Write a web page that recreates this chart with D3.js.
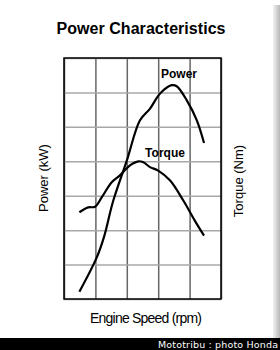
<!DOCTYPE html>
<html>
<head>
<meta charset="utf-8">
<script src="https://cdn.jsdelivr.net/npm/d3@7"></script>
<style>
  body { margin: 0; background: #fff; }
  text { font-family: "Liberation Sans", Arial, sans-serif; }
</style>
</head>
<body>
<div id="chartDiv"></div>
<script>
// engine speed in grid units (5 columns), output in grid units (7 rows)
const powerSpeed = [0.49, 1.04, 1.27, 1.57, 2.0, 2.42, 2.74, 3.06, 3.43, 3.59, 3.91, 4.23, 4.46];
const powerValue = [0.21, 1.2, 1.79, 2.86, 4.02, 5.19, 5.53, 5.97, 6.21, 6.18, 5.77, 5.19, 4.53];
const torqueSpeed = [0.49, 0.77, 0.99, 1.2, 1.52, 1.78, 2.1, 2.37, 2.53, 2.74, 3.0, 3.38, 3.8, 4.17, 4.46];
const torqueValue = [2.52, 2.66, 2.68, 2.95, 3.39, 3.59, 3.88, 4.0, 3.97, 3.83, 3.73, 3.44, 2.86, 2.27, 1.84];
const xCols = 5;
const yRows = 7;

const width = 280, height = 350;
const margin = {top: 58, right: 59, bottom: 51, left: 64};

let svg = d3.select("#chartDiv").append("svg")
    .attr("width", width)
    .attr("height", height);

// grey shadow on the right edge
let grad = svg.append("defs").append("linearGradient")
    .attr("id", "shade").attr("x1", 0).attr("x2", 1);
grad.append("stop").attr("offset", 0).attr("stop-color", "#f2f2f2");
grad.append("stop").attr("offset", 1).attr("stop-color", "#b8b8b8");
svg.append("rect")
    .attr("x", 273).attr("y", 5)
    .attr("width", 7).attr("height", 333)
    .attr("fill", "url(#shade)");

let x = d3.scaleLinear()
    .domain([0, xCols])
    .range([margin.left, width - margin.right]);

let y = d3.scaleLinear()
    .domain([0, yRows])
    .range([height - margin.bottom, margin.top]);

// grid
svg.append("g")
    .attr("transform", `translate(0, ${height - margin.bottom})`)
    .call(d3.axisBottom(x).ticks(xCols).tickSize(-(height - margin.top - margin.bottom)).tickFormat(""))
    .call(g => g.select(".domain").remove())
    .selectAll(".tick line")
    .attr("stroke", "#666")
    .attr("stroke-width", 1.5);

svg.append("g")
    .attr("transform", `translate(${margin.left}, 0)`)
    .call(d3.axisLeft(y).ticks(yRows).tickSize(-(width - margin.left - margin.right)).tickFormat(""))
    .call(g => g.select(".domain").remove())
    .selectAll(".tick line")
    .attr("stroke", "#a8a8a8")
    .attr("stroke-width", 1.5);

// frame
svg.append("rect")
    .attr("x", x(0)).attr("y", y(yRows))
    .attr("width", x(xCols) - x(0))
    .attr("height", y(0) - y(yRows))
    .attr("fill", "none")
    .attr("stroke", "#000")
    .attr("stroke-width", 1.5);

let line = d3.line()
    .x(d => x(d[0]))
    .y(d => y(d[1]))
    .curve(d3.curveCatmullRom);

svg.append("path")
    .datum(d3.zip(powerSpeed, powerValue))
    .attr("d", line)
    .attr("fill", "none")
    .attr("stroke", "#000")
    .attr("stroke-width", 2.2);

svg.append("path")
    .datum(d3.zip(torqueSpeed, torqueValue))
    .attr("d", line)
    .attr("fill", "none")
    .attr("stroke", "#000")
    .attr("stroke-width", 2.2);

// curve labels
svg.append("text")
    .attr("x", 179).attr("y", 78)
    .attr("text-anchor", "middle")
    .style("font-weight", "bold").style("font-size", "12px")
    .text("Power");

svg.append("text")
    .attr("x", 165).attr("y", 157)
    .attr("text-anchor", "middle")
    .style("font-weight", "bold").style("font-size", "12px")
    .text("Torque");

// title
svg.append("text")
    .attr("x", 141).attr("y", 34)
    .attr("text-anchor", "middle")
    .attr("textLength", 169)
    .style("font-weight", "bold").style("font-size", "16px")
    .text("Power Characteristics");

// axis titles
svg.append("text")
    .attr("transform", "translate(48, 178) rotate(-90)")
    .attr("text-anchor", "middle")
    .style("font-size", "13px")
    .text("Power (kW)");

svg.append("text")
    .attr("transform", "translate(243, 181) rotate(-90)")
    .attr("text-anchor", "middle")
    .style("font-size", "13px")
    .text("Torque (Nm)");

svg.append("text")
    .attr("x", 146).attr("y", 323)
    .attr("text-anchor", "middle")
    .attr("textLength", 112)
    .style("font-size", "14px")
    .text("Engine Speed (rpm)");

// footer band
svg.append("rect")
    .attr("x", 0).attr("y", 338)
    .attr("width", width).attr("height", 12)
    .attr("fill", "#000");

svg.append("text")
    .attr("x", 278).attr("y", 347.5)
    .attr("text-anchor", "end")
    .attr("textLength", 120)
    .attr("fill", "#fff")
    .style("font-family", "'DejaVu Sans', sans-serif")
    .style("font-size", "9.5px")
    .text("Mototribu : photo Honda");
</script>
</body>
</html>
